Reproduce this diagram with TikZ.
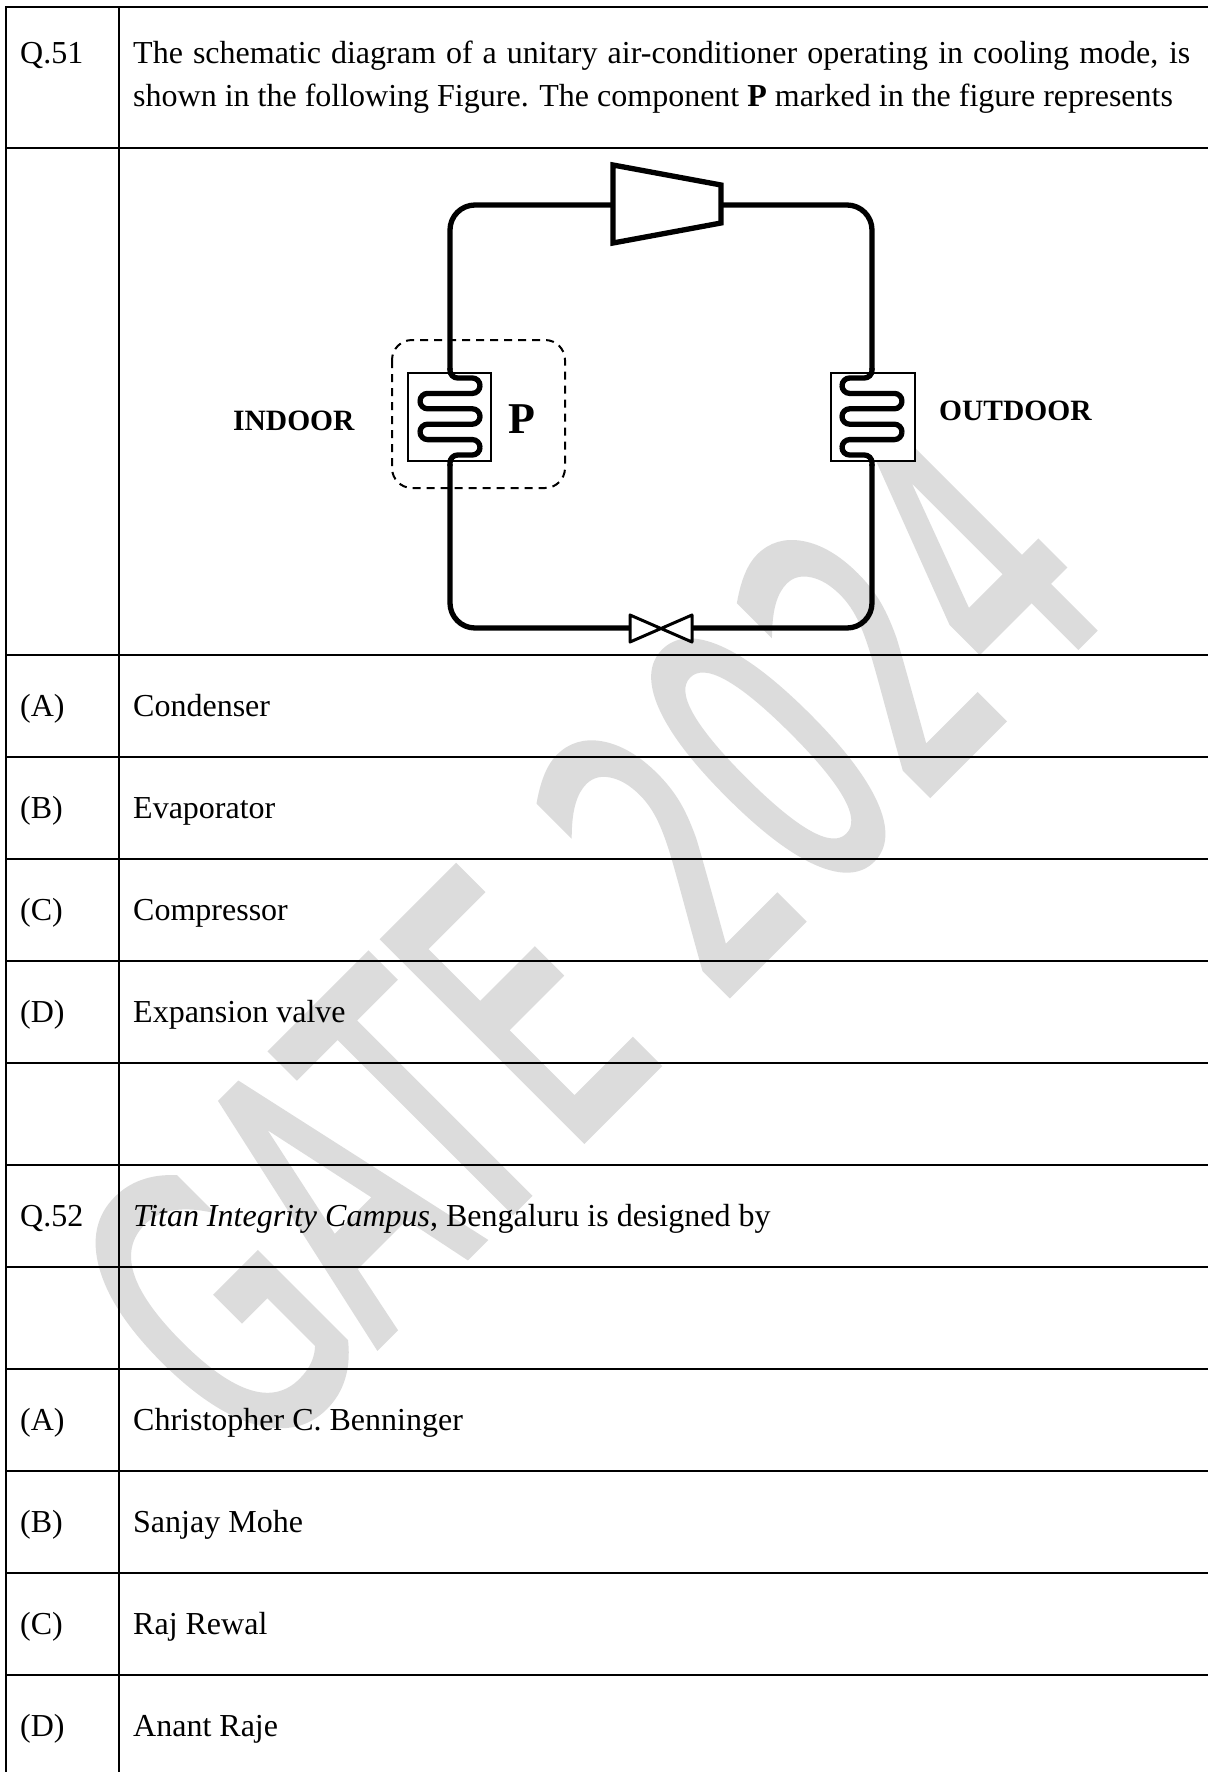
\documentclass[tikz,border=0pt]{standalone}
\usepackage{fontspec}
\setmainfont{Liberation Serif}
\newfontfamily\wmfont[FakeBold=2.5]{DejaVu Sans}
\definecolor{wm}{RGB}{220,220,220}
\begin{document}
\begin{tikzpicture}[x=1bp,y=-1bp,
  grid/.style={line width=2.3bp, line cap=rect},
  pipe/.style={line width=5.3bp},
  thinbox/.style={line width=2.8bp},
  body/.style={anchor=base west, inner sep=0pt, font=\fontsize{32bp}{38bp}\selectfont},
  lbl/.style={anchor=base west, inner sep=0pt, font=\bfseries\fontsize{29.5bp}{34bp}\selectfont},
]
\useasboundingbox (0,0) rectangle (1207,1772);
\fill[white] (0,0) rectangle (1207,1772);
% watermark
\begin{scope}[shift={(253.5,1468)}, rotate=45, xscale=0.58]
  \node[transform shape, anchor=base west, text=wm, inner sep=0pt, font=\wmfont\fontsize{384bp}{384bp}\selectfont] (wmark) at (0,0) {GATE 2024};
\end{scope}
% table grid
\foreach \y in {7,148,655,757,859,961,1063,1165,1267,1369,1471,1573,1675}
  \draw[grid] (6,\y) -- (1207,\y);
\draw[grid] (6,7) -- (6,1772);
\draw[grid] (119,7) -- (119,1772);
% question 51
\node[body] (q51) at (20,63) {Q.51};
\node[body] (q51a) at (133,63) {\makebox[1057bp][s]{The schematic diagram of a unitary air-conditioner operating in cooling mode, is}};
\node[body] (q51b) at (133,106) {shown in the following Figure. The component \textbf{P} marked in the figure represents};
% diagram
\coordinate (tl) at (450,205);
\coordinate (tr) at (872,205);
\coordinate (bl) at (450,628);
\coordinate (br) at (872,628);
% dashed box
\draw[line width=2bp, dash pattern=on 8bp off 6bp, rounded corners=20bp] (392,340) rectangle (565,488);
% coil boxes
\draw[thinbox, fill=white] (408,373) rectangle (491,461);
\draw[thinbox, fill=white] (831,373) rectangle (915,461);
% compressor
\draw[pipe, fill=white] (613,165) -- (721,185) -- (721,223) -- (613,243) -- cycle;
% valve
\draw[line width=3bp, line join=round, fill=white] (630,615) -- (630,642) -- (692,615) -- (692,642) -- cycle;
% pipes
\draw[pipe, rounded corners=25bp] (721,205) -- (tr) -- (872,370);
\draw[pipe, rounded corners=25bp] (872,464) -- (br) -- (692,628);
\draw[pipe, rounded corners=25bp] (630,628) -- (bl) -- (450,464);
\draw[pipe, rounded corners=25bp] (450,370) -- (tl) -- (613,205);
% outdoor coil
\draw[pipe, rounded corners=7.7bp] (872,368) -- (872,378) -- (842,378) -- (842,393.4) -- (902,393.4) -- (902,408.8) -- (842,408.8) -- (842,424.2) -- (902,424.2) -- (902,439.6) -- (842,439.6) -- (842,455) -- (872,455) -- (872,466);
% indoor coil
\draw[pipe, rounded corners=7.7bp] (450,368) -- (450,378) -- (480,378) -- (480,393.4) -- (420,393.4) -- (420,408.8) -- (480,408.8) -- (480,424.2) -- (420,424.2) -- (420,439.6) -- (480,439.6) -- (480,455) -- (450,455) -- (450,466);
% labels
\node[lbl] (indoor) at (233,430) {INDOOR};
\node[lbl] (outdoor) at (939,420) {OUTDOOR};
\node[anchor=base west, inner sep=0pt, font=\bfseries\fontsize{44bp}{50bp}\selectfont] (p) at (508,433) {P};
% options Q51
\node[body] (a1) at (20,716) {(A)};
\node[body] (a1t) at (133,716) {Condenser};
\node[body] (b1) at (20,818) {(B)};
\node[body] (b1t) at (133,818) {Evaporator};
\node[body] (c1) at (20,920) {(C)};
\node[body] (c1t) at (133,920) {Compressor};
\node[body] (d1) at (20,1022) {(D)};
\node[body] (d1t) at (133,1022) {Expansion valve};
% question 52
\node[body] (q52) at (20,1226) {Q.52};
\node[body] (q52t) at (133,1226) {\textit{Titan Integrity Campus}, Bengaluru is designed by};
\node[body] (a2) at (20,1430) {(A)};
\node[body] (a2t) at (133,1430) {Christopher C. Benninger};
\node[body] (b2) at (20,1532) {(B)};
\node[body] (b2t) at (133,1532) {Sanjay Mohe};
\node[body] (c2) at (20,1634) {(C)};
\node[body] (c2t) at (133,1634) {Raj Rewal};
\node[body] (d2) at (20,1736) {(D)};
\node[body] (d2t) at (133,1736) {Anant Raje};
\end{tikzpicture}
\end{document}
